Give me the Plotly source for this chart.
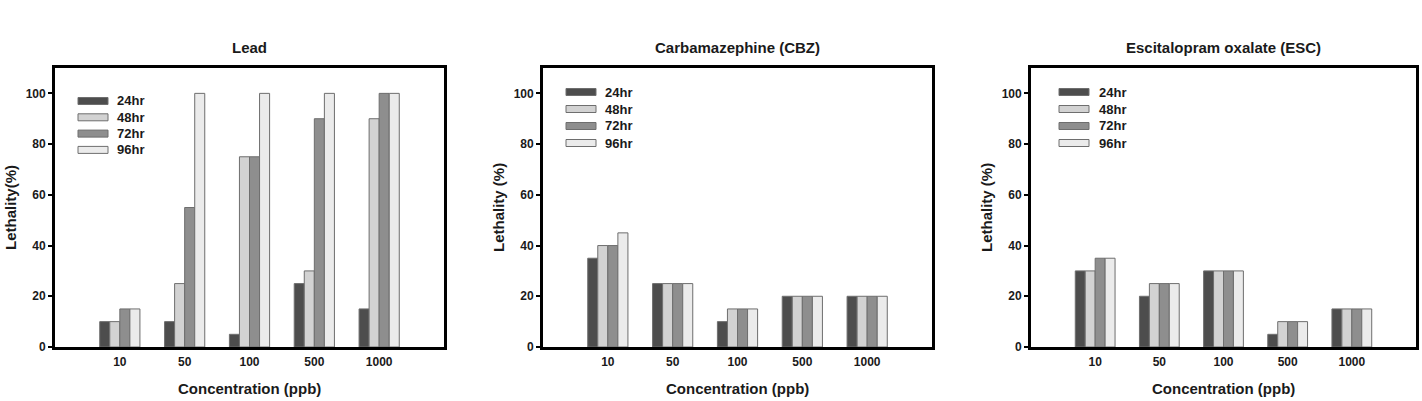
import plotly.graph_objects as go

concentrations = ["10", "50", "100", "500", "1000"]
series_names = ["24hr", "48hr", "72hr", "96hr"]
series_colors = ["#4d4d4d", "#d2d2d2", "#8e8e8e", "#ebebeb"]

panel_titles = ["Lead", "Carbamazephine (CBZ)", "Escitalopram oxalate (ESC)"]
y_titles = ["Lethality(%)", "Lethality (%)", "Lethality (%)"]

lead_24 = [10, 10, 5, 25, 15]
lead_48 = [10, 25, 75, 30, 90]
lead_72 = [15, 55, 75, 90, 100]
lead_96 = [15, 100, 100, 100, 100]

cbz_24 = [35, 25, 10, 20, 20]
cbz_48 = [40, 25, 15, 20, 20]
cbz_72 = [40, 25, 15, 20, 20]
cbz_96 = [45, 25, 15, 20, 20]

esc_24 = [30, 20, 30, 5, 15]
esc_48 = [30, 25, 30, 10, 15]
esc_72 = [35, 25, 30, 10, 15]
esc_96 = [35, 25, 30, 10, 15]

y_ticks = [0, 20, 40, 60, 80, 100]

panels = [
    [lead_24, lead_48, lead_72, lead_96],
    [cbz_24, cbz_48, cbz_72, cbz_96],
    [esc_24, esc_48, esc_72, esc_96],
]

W, H = 1422, 401
FONT = "Liberation Sans, Arial, sans-serif"
TXT = "#1a1a1a"

# pixel layout of the three plot frames
frames = [(55, 444), (543, 932), (1031, 1416)]
top_px, bot_px = 68, 347
# legend placement per panel: (swatch offset from frame left, text offset, first row y, row step)
legend_pos = [(23, 60, 101, 16.3), (23, 60, 92, 17.0), (28, 66, 92, 17.0)]

fig = go.Figure()
xidx = list(range(len(concentrations)))
layout = dict(
    width=W, height=H,
    margin=dict(l=0, r=0, t=0, b=0),
    paper_bgcolor="white", plot_bgcolor="white",
    barmode="group", bargap=0.38, bargroupgap=0.0,
    font=dict(family=FONT, color=TXT),
    showlegend=False,
    annotations=[], shapes=[],
)

for p, data in enumerate(panels):
    n = p + 1
    xa = "x" if n == 1 else f"x{n}"
    ya = "y" if n == 1 else f"y{n}"
    for s, vals in enumerate(data):
        fig.add_trace(go.Bar(
            x=xidx, y=vals, name=series_names[s],
            marker=dict(color=series_colors[s], line=dict(color="#6e6e6e", width=1)),
            xaxis=xa, yaxis=ya, offsetgroup=str(s),
        ))
    l, r = frames[p]
    axis_common = dict(
        showline=True, linecolor="black", linewidth=2.8, mirror=True,
        showgrid=False, zeroline=False,
        ticks="outside", ticklen=4, tickwidth=1.5, tickcolor="black",
        tickfont=dict(family=FONT, size=12, color=TXT, weight="bold"),
        automargin=False,
    )
    layout["xaxis" if n == 1 else f"xaxis{n}"] = dict(
        axis_common, domain=[l / W, r / W], range=[-1, 5],
        tickvals=xidx, ticktext=concentrations, anchor=ya, ticks="", ticklen=0,
        ticklabelstandoff=2,
    )
    layout["yaxis" if n == 1 else f"yaxis{n}"] = dict(
        axis_common, domain=[1 - bot_px / H, 1 - top_px / H], range=[0, 110],
        tickvals=y_ticks, anchor=xa,
    )
    cx = (l + r) / 2 / W
    layout["annotations"].append(dict(
        text=panel_titles[p], x=cx, y=1 - 47 / H, xref="paper", yref="paper",
        showarrow=False, font=dict(family=FONT, size=15, color=TXT, weight="bold"),
        xanchor="center", yanchor="middle",
    ))
    layout["annotations"].append(dict(
        text="Concentration (ppb)", x=cx, y=1 - 388 / H, xref="paper", yref="paper",
        showarrow=False, font=dict(family=FONT, size=15, color=TXT, weight="bold"),
        xanchor="center", yanchor="middle",
    ))
    layout["annotations"].append(dict(
        text=y_titles[p], x=(l - 45) / W, y=1 - 208 / H, xref="paper", yref="paper",
        showarrow=False, textangle=-90,
        font=dict(family=FONT, size=15, color=TXT, weight="bold"),
        xanchor="center", yanchor="middle",
    ))
    # legend: wide swatches + labels
    sw_off, tx_off, y0, step = legend_pos[p]
    for s, name in enumerate(series_names):
        yc = y0 + s * step
        layout["shapes"].append(dict(
            type="rect", xref="paper", yref="paper",
            x0=(l + sw_off) / W, x1=(l + sw_off + 30) / W,
            y0=1 - (yc - 3.5) / H, y1=1 - (yc + 3.5) / H,
            fillcolor=series_colors[s], line=dict(color="#6e6e6e", width=1),
        ))
        layout["annotations"].append(dict(
            text=name, x=(l + tx_off) / W, y=1 - yc / H, xref="paper", yref="paper",
            showarrow=False, xanchor="left", yanchor="middle",
            font=dict(family=FONT, size=13, color=TXT, weight="bold"),
        ))

fig.update_layout(**layout)
fig.write_html("out.html")
